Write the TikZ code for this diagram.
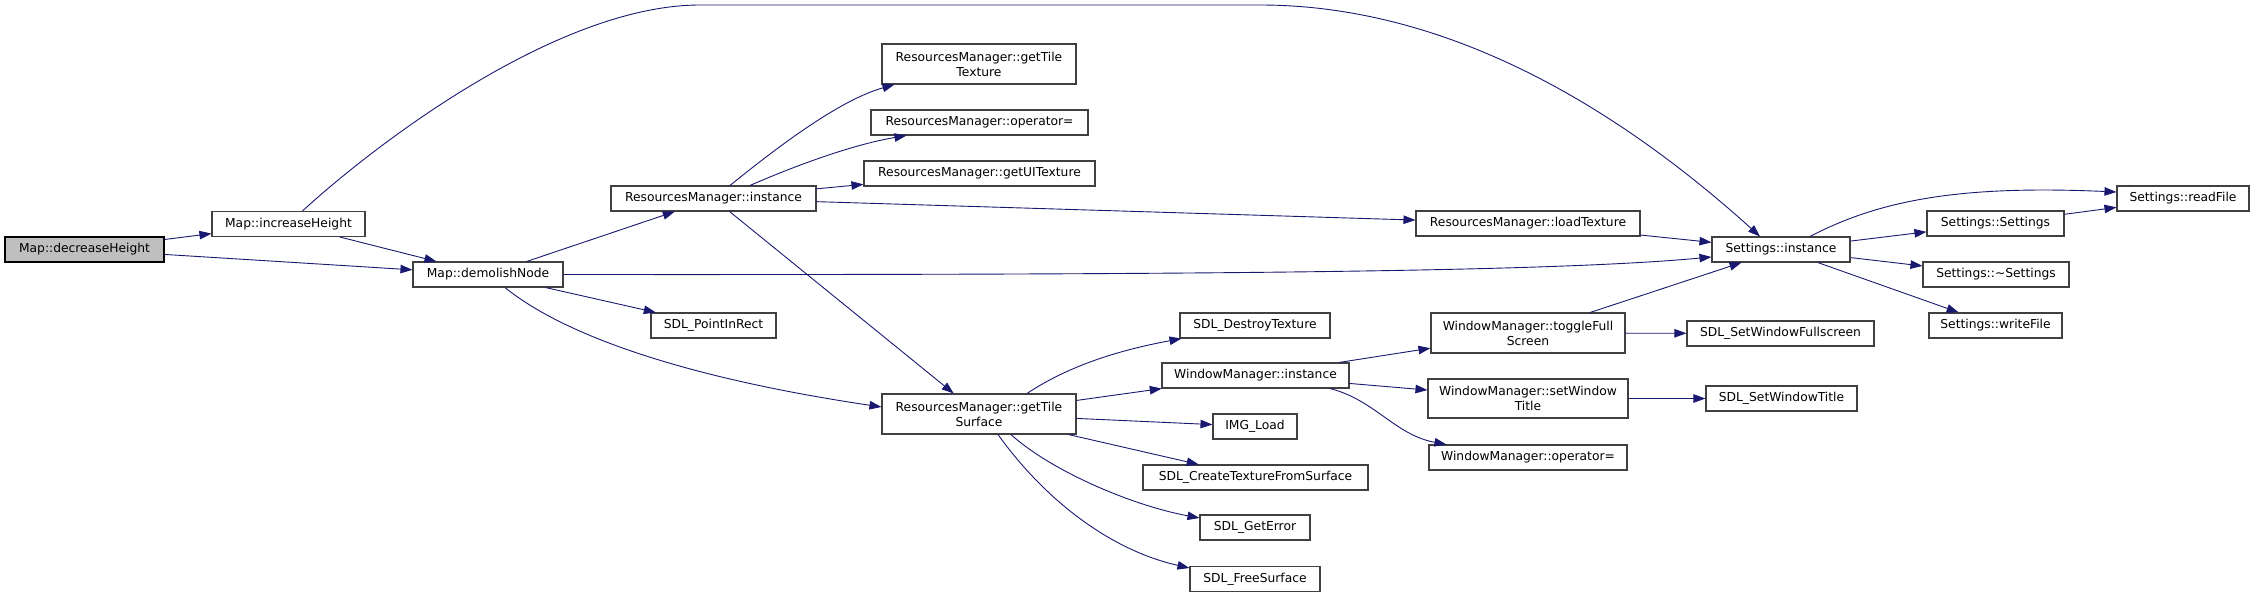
\documentclass[tikz,border=0pt]{standalone}
\usepackage{fontspec}
\setmainfont{DejaVu Sans}
\usetikzlibrary{arrows.meta}
\definecolor{edgeblue}{HTML}{191970}
\definecolor{boxgrey}{HTML}{404040}
\definecolor{rootgrey}{HTML}{BFBFBF}

\begin{document}
\begin{tikzpicture}[x=1pt, y=-1pt,
    fn/.style={draw=boxgrey, line width=1.1pt, fill=white, inner sep=0pt, align=center, font=\fontsize{12.3}{15}\selectfont},
    call/.style={draw=edgeblue, line width=0.9pt, -{Triangle[length=12pt, width=8.5pt]}}]
    \useasboundingbox (0,0) rectangle (2255,597);
    \node[fn, fill=rootgrey, draw=black, minimum width=159pt, minimum height=25pt] (decH) at (84.5,249.5) {Map::decreaseHeight};
    \foreach \n/\x/\y/\w/\h/\t in {
        incH/288.5/224/153/25/{Map::increaseHeight},
        demol/488/274.5/150/25/{Map::demolishNode},
        rmInst/713.5/198.5/205/25/{ResourcesManager::instance},
        pir/713.5/325.5/125/25/{SDL\_PointInRect},
        gtt/979/64/194/40/{ResourcesManager::getTile\\Texture},
        rmOp/979.5/122.5/217/25/{ResourcesManager::operator=},
        gui/979.5/173.5/231/25/{ResourcesManager::getUITexture},
        gts/979/414/194/40/{ResourcesManager::getTile\\Surface},
        loadTex/1528/223.5/224/25/{ResourcesManager::loadTexture},
        destroyTex/1255/325.5/150/25/{SDL\_DestroyTexture},
        wmInst/1255.5/375.5/187/25/{WindowManager::instance},
        imgLoad/1255/426.5/84/25/{IMG\_Load},
        createTex/1255.5/477.5/225/25/{SDL\_CreateTextureFromSurface},
        getErr/1255/527.5/110/25/{SDL\_GetError},
        freeSurf/1255/579/130/25/{SDL\_FreeSurface},
        toggleFS/1528/333/194/40/{WindowManager::toggleFull\\Screen},
        setTitle/1528/398.5/200/39/{WindowManager::setWindow\\Title},
        wmOp/1528/457.5/198/25/{WindowManager::operator=},
        sInst/1781/249.5/138/25/{Settings::instance},
        setFS/1780.5/333.5/187/25/{SDL\_SetWindowFullscreen},
        setWT/1781.5/398.5/151/25/{SDL\_SetWindowTitle},
        readF/2183/198.5/132/25/{Settings::readFile},
        sCtor/1995.5/223.5/137/25/{Settings::Settings},
        sDtor/1996/274.5/146/25/{Settings::\textasciitilde Settings},
        writeF/1995.5/325.5/133/25/{Settings::writeFile}} {
        \node[fn, minimum width=\w pt, minimum height=\h pt] (\n) at (\x,\y) {\t};
    }
    \draw[call] (decH) -- (incH);
    \draw[call] (decH) -- (demol);
    \draw[call] (incH) -- (demol);
    \draw[call] ([xshift=14pt]incH.north) .. controls (380,140) and (560,5) .. (700,5) -- (1260,5) .. controls (1450,5) and (1620,110) .. ([xshift=-21pt]sInst.north);
    \draw[call] (demol) -- (rmInst);
    \draw[call] (demol.east) .. controls (1200,275) and (1550,272) .. ([yshift=-7.5pt]sInst.west);
    \draw[call] (demol) -- (pir);
    \draw[call] ([xshift=17pt]demol.south) .. controls (570,340) and (700,380) .. ([yshift=7pt]gts.west);
    \draw[call] ([xshift=16.5pt]rmInst.north) .. controls (780,145) and (840,100) .. ([xshift=13pt]gtt.south west);
    \draw[call] ([xshift=36.5pt]rmInst.north) .. controls (790,168) and (850,145) .. ([xshift=36pt]rmOp.south west);
    \draw[call] (rmInst) -- (gui);
    \draw[call] (rmInst) -- (loadTex);
    \draw[call] (rmInst) -- (gts);
    \draw[call] (loadTex) -- (sInst);
    \draw[call] ([xshift=48pt]gts.north) .. controls (1070,365) and (1120,350) .. ([xshift=2pt]destroyTex.south west);
    \draw[call] (gts) -- (wmInst);
    \draw[call] (gts) -- (imgLoad);
    \draw[call] (gts) -- (createTex);
    \draw[call] ([xshift=32pt]gts.south) .. controls (1050,470) and (1130,505) .. ([yshift=9.5pt]getErr.west);
    \draw[call] ([xshift=19pt]gts.south) .. controls (1045,500) and (1110,550) .. ([yshift=11pt]freeSurf.west);
    \draw[call] (wmInst) -- (toggleFS);
    \draw[call] (wmInst) -- (setTitle);
    \draw[call] ([xshift=74.5pt]wmInst.south) .. controls (1375,400) and (1395,435) .. ([xshift=18pt]wmOp.north west);
    \draw[call] (toggleFS) -- (sInst);
    \draw[call] (toggleFS) -- (setFS);
    \draw[call] (setTitle) -- (setWT);
    \draw[call] ([xshift=29pt]sInst.north) .. controls (1880,200) and (1960,185) .. ([yshift=6.5pt]readF.west);
    \draw[call] (sInst) -- (sCtor);
    \draw[call] (sInst) -- (sDtor);
    \draw[call] (sInst) -- (writeF);
    \draw[call] (sCtor) -- (readF);
\end{tikzpicture}
\end{document}
